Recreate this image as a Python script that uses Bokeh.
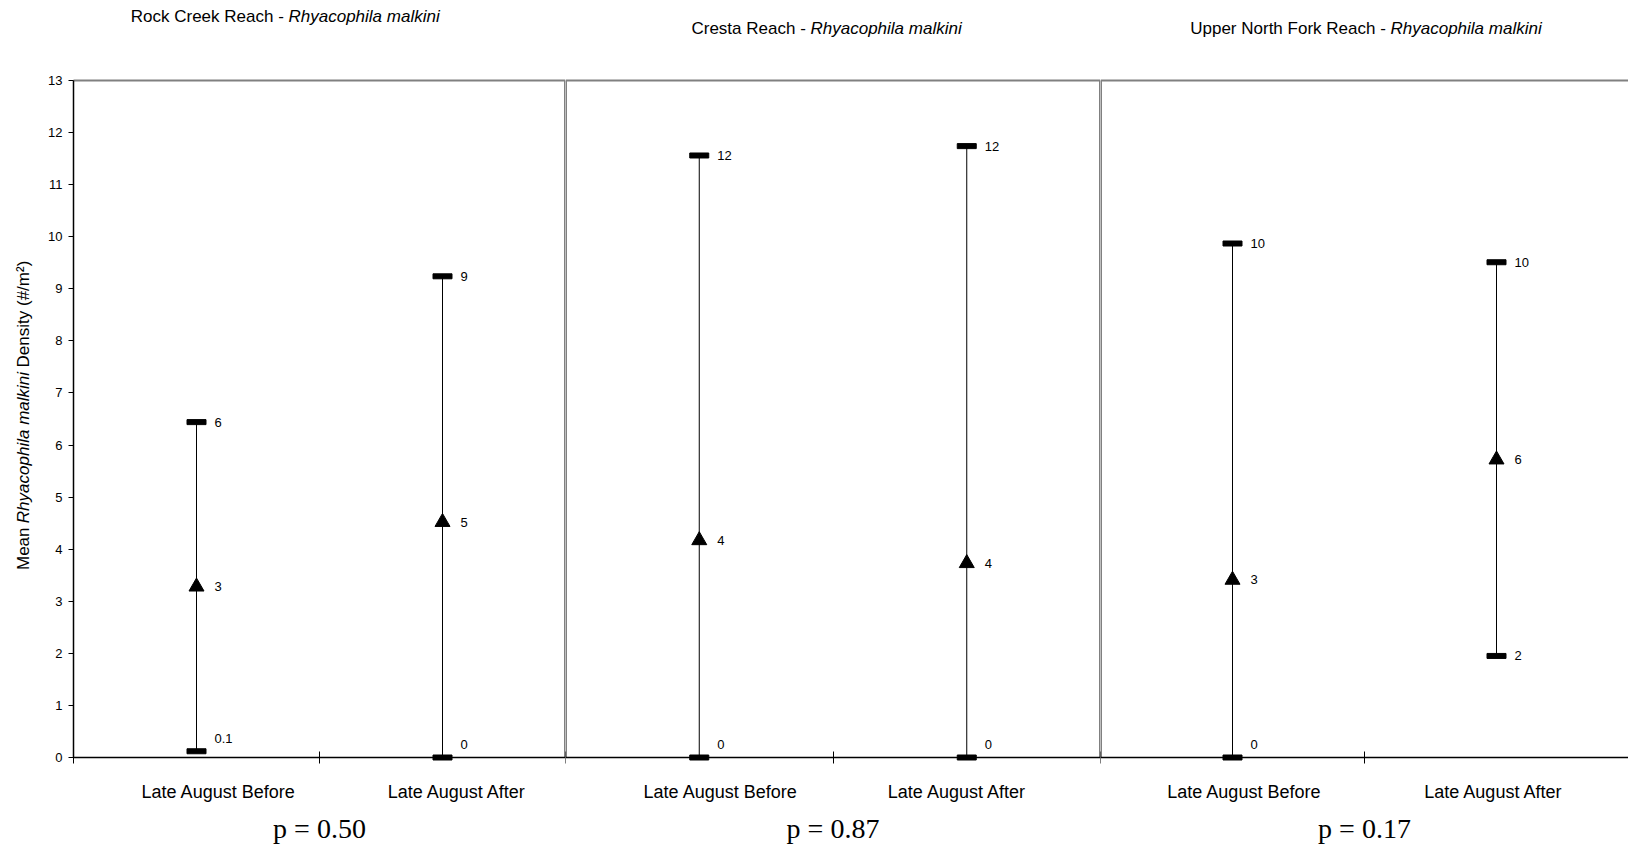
import math
from bokeh.plotting import figure
from bokeh.layouts import row
from bokeh.models import Range1d, FixedTicker, ColumnDataSource, LinearAxis
from bokeh.core.properties import value
from bokeh.embed import file_html
from bokeh.resources import INLINE

# ---------------- data ----------------
reaches = ["Rock Creek Reach", "Cresta Reach", "Upper North Fork Reach"]
species = "Rhyacophila malkini"
periods = ["Late August Before", "Late August After"]
mean_density = [[3.28, 4.52], [4.17, 3.73], [3.41, 5.72]]
upper_density = [[6.44, 9.24], [11.56, 11.74], [9.87, 9.51]]
lower_density = [[0.12, 0.0], [0.0, 0.0], [0.0, 1.95]]
mean_labels = [["3", "5"], ["4", "4"], ["3", "6"]]
upper_labels = [["6", "9"], ["12", "12"], ["10", "10"]]
lower_labels = [["0.1", "0"], ["0", "0"], ["0", "2"]]
p_values = ["0.50", "0.87", "0.17"]
y_ticks = list(range(0, 14))
y_title_parts = ["Mean ", species, " Density (#/m\u00b2)"]

# ---------------- layout / style ----------------
FONT = "Liberation Sans"
SERIF = "Liberation Serif"
PAGE_H = 847
FRAME_TOP_PX = 80      # pixel row of the value 13
FRAME_BOTTOM_PX = 757  # pixel row of the value 0
fig_widths = [565, 535, 528]
AXIS_PX = 73           # pixel column of the y axis inside panel 1
YLAB_PX = 23           # pixel column of the rotated y title
title_px = [(288, 16), (245, 28), (290, 28)]   # (join x inside panel, y) of each title
ylab_starts = [3.60, 4.50, 7.49]               # start of each y-title piece (axis units)
label_nudge = [[0.09, 0.06], [0.08, -0.035], [0.045, -0.01]]
GRAY = "#808080"

y_max = y_ticks[-1]
px_per_unit = (FRAME_BOTTOM_PX - FRAME_TOP_PX) / y_max
y_lo = -(PAGE_H - FRAME_BOTTOM_PX) / px_per_unit
y_hi = y_max + FRAME_TOP_PX / px_per_unit


def yval(py):
    return (FRAME_BOTTOM_PX - py) / px_per_unit


figs = []
for k in range(3):
    n = len(periods)
    xs = [i + 0.5 for i in range(n)]
    label_pos = [x + d for x, d in zip(xs, label_nudge[k])]
    W = fig_widths[k]
    x_left = -AXIS_PX * n / (W - AXIS_PX) if k == 0 else 0.0

    def xval(px, x_left=x_left, W=W, n=n):
        return x_left + px * (n - x_left) / W

    p = figure(width=W, height=PAGE_H, output_backend="svg", toolbar_location=None,
               x_range=Range1d(x_left, n), y_range=Range1d(y_lo, y_hi),
               x_axis_location=None, y_axis_location=None,
               min_border=0, min_border_left=0, min_border_right=0,
               min_border_top=0, min_border_bottom=0)
    p.outline_line_color = None
    p.grid.visible = False
    p.background_fill_color = "white"
    p.border_fill_color = "white"

    # category axis drawn at value 0
    xa = LinearAxis(fixed_location=0, bounds=(0, n),
                    ticker=FixedTicker(ticks=label_pos, minor_ticks=list(range(n + 1))))
    xa.major_label_overrides = {x: lab for x, lab in zip(label_pos, periods)}
    xa.axis_line_color = "black"
    xa.axis_line_width = 1.5
    xa.major_tick_line_color = None
    xa.major_tick_in = 0
    xa.major_tick_out = 0
    xa.minor_tick_line_color = "black"
    xa.minor_tick_in = 6
    xa.minor_tick_out = 6
    xa.major_label_text_font = FONT
    xa.major_label_text_font_size = "18px"
    xa.major_label_text_color = "black"
    xa.major_label_standoff = 18
    xa.axis_label = f"p = {p_values[k]}"
    xa.axis_label_text_font = SERIF
    xa.axis_label_text_font_size = "28px"
    xa.axis_label_text_font_style = "normal"
    xa.axis_label_text_color = "black"
    xa.axis_label_standoff = 8
    p.add_layout(xa, "below")

    if k == 0:
        ya = LinearAxis(fixed_location=0, bounds=(0, y_max), ticker=FixedTicker(ticks=y_ticks))
        ya.axis_line_color = "black"
        ya.axis_line_width = 1.5
        ya.major_tick_line_color = "black"
        ya.major_tick_in = 0
        ya.major_tick_out = 5
        ya.minor_tick_line_color = None
        ya.major_label_text_font = FONT
        ya.major_label_text_font_size = "13px"
        ya.major_label_text_color = "black"
        ya.major_label_standoff = 6
        p.add_layout(ya, "left")
        # rotated y title: roman / italic / roman pieces laid end to end
        for txt, y0, style in zip(y_title_parts, ylab_starts, ["normal", "italic", "normal"]):
            p.text(x=[xval(YLAB_PX)], y=[y0], text=[txt.strip()], angle=math.pi / 2,
                   text_font=value(FONT), text_font_size="17px", text_color="black",
                   text_font_style=style, text_align="left", text_baseline="middle")

    # panel title: roman reach name + italic species
    tx, ty = title_px[k]
    p.text(x=[xval(tx)], y=[yval(ty)], text=[f"{reaches[k]} -"],
           text_font=value(FONT), text_font_size="17px", text_color="black",
           text_align="right", text_baseline="middle", x_offset=-4.7)
    p.text(x=[xval(tx)], y=[yval(ty)], text=[species],
           text_font=value(FONT), text_font_size="17px", text_color="black",
           text_font_style="italic", text_align="left", text_baseline="middle")

    # frame borders
    p.segment(x0=[0], y0=[y_max], x1=[n], y1=[y_max], line_color=GRAY, line_width=2)
    if k < 2:
        p.segment(x0=[n], y0=[0], x1=[n], y1=[y_max], line_color=GRAY, line_width=3)
    if k > 0:
        p.segment(x0=[0], y0=[0], x1=[0], y1=[y_max], line_color=GRAY, line_width=3)

    src = ColumnDataSource(dict(x=xs, mean=mean_density[k], up=upper_density[k],
                                lo=lower_density[k], ml=mean_labels[k],
                                ul=upper_labels[k], ll=lower_labels[k]))
    p.segment(x0="x", y0="lo", x1="x", y1="up", source=src, line_color="black", line_width=1)
    p.rect(x="x", y="up", width=19, height=5, width_units="screen", height_units="screen",
           source=src, color="black")
    p.rect(x="x", y="lo", width=19, height=5, width_units="screen", height_units="screen",
           source=src, color="black")
    p.scatter(x="x", y="mean", marker="triangle", size=15, color="black", source=src)

    tstyle = dict(text_font=value(FONT), text_font_size="13px", text_color="black",
                  text_align="left", text_baseline="middle", x_offset=18)
    p.text(x="x", y="up", text="ul", source=src, **tstyle)
    p.text(x="x", y="mean", text="ml", source=src, **tstyle)
    near = [v < 0.5 for v in lower_density[k]]
    src_lo_near = ColumnDataSource(dict(x=[x for x, f in zip(xs, near) if f],
                                        lo=[v for v, f in zip(lower_density[k], near) if f],
                                        ll=[t for t, f in zip(lower_labels[k], near) if f]))
    src_lo_far = ColumnDataSource(dict(x=[x for x, f in zip(xs, near) if not f],
                                       lo=[v for v, f in zip(lower_density[k], near) if not f],
                                       ll=[t for t, f in zip(lower_labels[k], near) if not f]))
    p.text(x="x", y="lo", text="ll", source=src_lo_near, y_offset=-13, **tstyle)
    p.text(x="x", y="lo", text="ll", source=src_lo_far, **tstyle)

    figs.append(p)

layout = row(*figs)
open("out.html", "w").write(file_html(layout, INLINE))
